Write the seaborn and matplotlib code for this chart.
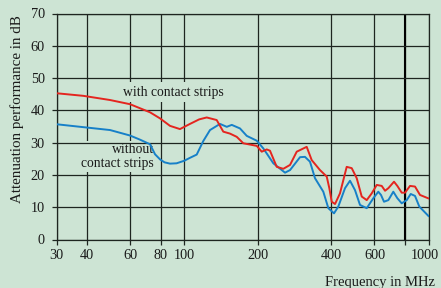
import matplotlib
matplotlib.use("Agg")
import matplotlib.pyplot as plt
import matplotlib.transforms as mtransforms
import seaborn as sns
import pandas as pd

# ---- data ----
freq_with = [30, 38.6, 49.7, 60, 72.4, 79.6, 87.4, 96, 105.5, 115, 123.5, 135.7, 144.4,
             153.8, 163.9, 174.4, 197.9, 207.4, 217.4, 224.2, 238.9, 254.2, 270.8, 288.4,
             316.8, 332.1, 359.1, 382.6, 392.1, 401.1, 413.8, 433.5, 461.8, 484.2, 507.5,
             532.1, 557.8, 584.8, 612.9, 642.4, 662.8, 683.8, 721.2, 744.1, 775.5, 800.2,
             838.6, 879, 921.2, 1000]
db_with = [45.3, 44.5, 43.2, 41.9, 39.4, 37.5, 35.2, 34.2, 35.8, 37.2, 37.8, 37.0, 33.4,
           32.8, 31.8, 29.8, 29.0, 27.2, 27.9, 27.5, 22.5, 21.9, 23.1, 27.2,
           28.7, 24.6, 21.5, 19.5, 15.9, 11.7, 11.0, 14.3, 22.5, 22.1, 19.0,
           13.3, 12.2, 14.3, 16.9, 16.6, 15.1, 15.9, 17.9, 16.6, 14.5, 14.5,
           16.6, 16.4, 13.8, 12.7]

freq_without = [30, 38.6, 49.7, 60, 66, 72.4, 75.9, 79.6, 83, 87.4, 93, 100, 105.5, 112.4,
                119.6, 127.4, 140, 149.2, 156.4, 169, 180.1, 197.9, 210.6, 231.4, 258.3,
                270.8, 297.5, 311.7, 326.8, 342.5, 370.5, 388.5, 409.8, 426.7, 454.6,
                476.5, 499.4, 523.5, 557.8, 593.8, 622, 638, 656.3, 683.8, 716.5, 744.1,
                775.5, 813, 844.2, 879, 915.3, 1000]
db_without = [35.7, 34.8, 33.9, 32.2, 30.9, 29.5, 26.4, 24.8, 23.9, 23.5, 23.6, 24.4, 25.3, 26.3,
              30.5, 33.9, 35.8, 34.9, 35.5, 34.4, 32.1, 30.6, 28.2, 23.6, 20.7,
              21.5, 25.5, 25.6, 24.1, 19.0, 14.8, 9.7, 8.1, 10.2, 15.9,
              18.2, 15.3, 10.7, 9.7, 12.8, 14.8, 13.8, 11.7, 12.2, 14.8, 12.8,
              11.2, 12.2, 14.1, 13.5, 10.2, 7.2]

x_ticks = [30, 40, 60, 80, 100, 200, 400, 600, 800, 1000]
x_tick_labels = ["30", "40", "60", "80", "100", "200", "400", "600", "", "1000"]
y_ticks = [0, 10, 20, 30, 40, 50, 60, 70]

label_with = "with contact strips"
label_without = "without\ncontact strips"
x_label = "Frequency in MHz"
y_label = "Attenuation performance in dB"

# ---- styling ----
bg = "#cde4d4"
grid_c = "#1e2520"
red = "#e4251f"
blue = "#1780c8"

sns.set_theme(style="ticks", rc={
    "figure.facecolor": bg,
    "axes.facecolor": bg,
    "axes.edgecolor": grid_c,
    "axes.linewidth": 0.9,
    "xtick.color": grid_c,
    "ytick.color": grid_c,
})
plt.rcParams["font.family"] = ["Liberation Serif", "DejaVu Serif"]

fig = plt.figure(figsize=(4.41, 2.88), dpi=100)
ax = fig.add_axes([56.5 / 441, 1 - 239.5 / 288, (428.7 - 56.5) / 441, (239.5 - 13.5) / 288])

df_w = pd.DataFrame({"freq": freq_with, "db": db_with})
df_wo = pd.DataFrame({"freq": freq_without, "db": db_without})
sns.lineplot(data=df_wo, x="freq", y="db", color=blue, lw=1.4, ax=ax, zorder=3)
sns.lineplot(data=df_w, x="freq", y="db", color=red, lw=1.4, ax=ax, zorder=3)

ax.set_xscale("log")
ax.set_xlim(30, 1000)
ax.set_ylim(0, 70)
ax.minorticks_off()
ax.set_xticks(x_ticks)
ax.set_xticklabels(x_tick_labels)
ax.set_yticks(y_ticks)
ax.tick_params(axis="both", which="major", length=3.5, width=0.9, labelsize=10.3,
               labelcolor="#1a1a1a")
ax.tick_params(axis="x", pad=3.0)
ax.tick_params(axis="y", pad=5.0)

# nudge the last x label so it stays inside the figure
last = ax.get_xticklabels()[-1]
last.set_transform(last.get_transform() +
                   mtransforms.ScaledTranslation(-2.5 / 72, 0, fig.dpi_scale_trans))

ax.grid(True, color=grid_c, lw=0.9)
ax.set_axisbelow(True)
# horizontal grid above the label masks, vertical grid below them
ax.yaxis.set_zorder(1.8)
ax.xaxis.set_zorder(0.5)
ax.axvline(800, color="#000000", lw=1.5, zorder=0.6)
for s in ax.spines.values():
    s.set_color(grid_c)
    s.set_linewidth(0.9)

ax.set_xlabel("")
ax.set_ylabel(y_label, fontsize=10.8, color="#1a1a1a", va="center")
ax.yaxis.set_label_coords(-0.106, 0.577)
fig.text(435 / 441, 1 - 286 / 288, x_label, ha="right", va="baseline",
         fontsize=10.5, color="#1a1a1a")

ax.text(90, 45.6, label_with, ha="center", va="center", fontsize=9.8, color="#1a1a1a",
        zorder=1.5, bbox=dict(facecolor=bg, edgecolor="none", pad=2.5))
ax.text(75, 25.7, label_without, ha="right", va="center", multialignment="right",
        fontsize=9.8, color="#1a1a1a", linespacing=1.15, zorder=1.5,
        bbox=dict(facecolor=bg, edgecolor="none", pad=1.5))

fig.savefig("out.png", dpi=100, facecolor=bg)
